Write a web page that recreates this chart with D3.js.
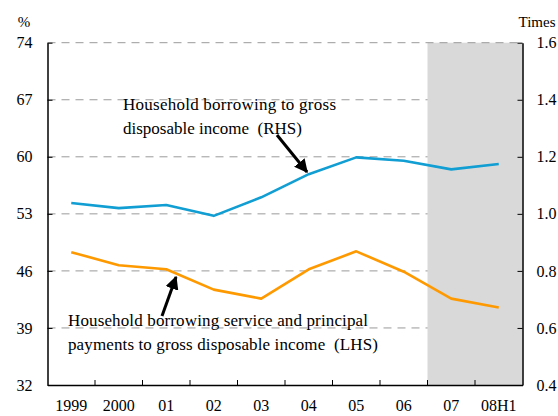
<!DOCTYPE html>
<html>
<head>
<meta charset="utf-8">
<script src="https://cdn.jsdelivr.net/npm/d3@7"></script>
<style>
  html, body { margin: 0; padding: 0; background: #fff; }
  svg { display: block; }
  text { font-family: "Liberation Serif", "Times New Roman", serif; fill: #000; }
</style>
</head>
<body>
<svg id="chart" width="558" height="416"></svg>
<script>
const categories = ["1999", "2000", "01", "02", "03", "04", "05", "06", "07", "08H1"];
const borrowingToIncomeRHS = [1.038, 1.020, 1.031, 0.993, 1.058, 1.139, 1.198, 1.186, 1.156, 1.175];
const servicePaymentsLHS = [48.3, 46.7, 46.2, 43.7, 42.6, 46.2, 48.4, 45.9, 42.6, 41.5];
const leftTicks = [32, 39, 46, 53, 60, 67, 74];
const rightTicks = [0.4, 0.6, 0.8, 1.0, 1.2, 1.4, 1.6];
const shadedFrom = "07";

const svg = d3.select("#chart");
const L = 47.5, R = 522.5, T = 42.7, B = 385;

const x = d3.scaleBand().domain(categories).range([L, R]).padding(0);
const cx = c => x(c) + x.bandwidth() / 2;
const yL = d3.scaleLinear().domain([32, 74]).range([B, T]);
const yR = d3.scaleLinear().domain([0.4, 1.6]).range([B, T]);

// gridlines
svg.append("g").selectAll("line")
  .data(leftTicks.filter(v => v > 32 && v < 74))
  .join("line")
  .attr("x1", L).attr("x2", R)
  .attr("y1", d => yL(d)).attr("y2", d => yL(d))
  .attr("stroke", "#9a9a9a").attr("stroke-width", 1)
  .attr("stroke-dasharray", "8,6");

// shaded forecast region
svg.append("rect")
  .attr("x", x(shadedFrom)).attr("y", T)
  .attr("width", R - x(shadedFrom)).attr("height", B - T)
  .attr("fill", "#d9d9d9");

// top line
svg.append("line")
  .attr("x1", L).attr("x2", R).attr("y1", yL(74)).attr("y2", yL(74))
  .attr("stroke", "#9a9a9a").attr("stroke-width", 1).attr("stroke-dasharray", "8,6");

// lines
const lineR = d3.line().x((d, i) => cx(categories[i])).y(d => yR(d));
const lineL = d3.line().x((d, i) => cx(categories[i])).y(d => yL(d));
svg.append("path").datum(borrowingToIncomeRHS)
  .attr("d", lineR).attr("fill", "none").attr("stroke", "#109ed3").attr("stroke-width", 2.6)
  .attr("stroke-linejoin", "round");
svg.append("path").datum(servicePaymentsLHS)
  .attr("d", lineL).attr("fill", "none").attr("stroke", "#ff9900").attr("stroke-width", 2.6)
  .attr("stroke-linejoin", "round");

// axes
const axL = d3.axisLeft(yL).tickValues(leftTicks).tickFormat(d3.format("d"))
  .tickSizeInner(-5).tickSizeOuter(0).tickPadding(15);
const gL = svg.append("g").attr("transform", `translate(${L},0)`).call(axL);
const axR = d3.axisRight(yR).tickValues(rightTicks).tickFormat(d3.format(".1f"))
  .tickSizeInner(-5).tickSizeOuter(0).tickPadding(14);
const gR = svg.append("g").attr("transform", `translate(${R},0)`).call(axR);
const axB = d3.axisBottom(x).tickSize(0).tickPadding(15);
const gB = svg.append("g").attr("transform", `translate(0,${B})`).call(axB);
[gL, gR, gB].forEach(g => {
  g.selectAll(".domain").attr("stroke", "#000").attr("stroke-width", 1.5);
  g.selectAll(".tick line").attr("stroke", "#000").attr("stroke-width", 1);
  g.selectAll("text").attr("font-family", "Liberation Serif").attr("font-size", 16).attr("fill", "#000");
});
gB.selectAll("text").attr("dy", "0.71em");
// category boundary ticks
svg.append("g").selectAll("line")
  .data(categories.slice(1))
  .join("line")
  .attr("x1", d => x(d)).attr("x2", d => x(d))
  .attr("y1", B).attr("y2", B - 5)
  .attr("stroke", "#000").attr("stroke-width", 1);

// unit labels
svg.append("text").attr("x", 24).attr("y", 27).attr("text-anchor", "middle")
  .attr("font-size", 15).text("%");
svg.append("text").attr("x", 537).attr("y", 27).attr("text-anchor", "middle")
  .attr("font-size", 15).text("Times");

// annotations
const ann = svg.append("g").attr("font-size", 17);
ann.append("text").attr("x", 123).attr("y", 110)
  .attr("textLength", 213).attr("lengthAdjust", "spacing").text("Household borrowing to gross");
ann.append("text").attr("x", 123).attr("y", 134).attr("xml:space", "preserve")
  .attr("textLength", 179).attr("lengthAdjust", "spacing").text("disposable income  (RHS)");
ann.append("text").attr("x", 68).attr("y", 326)
  .attr("textLength", 300).attr("lengthAdjust", "spacing").text("Household borrowing service and principal");
ann.append("text").attr("x", 68).attr("y", 350).attr("xml:space", "preserve")
  .attr("textLength", 310).attr("lengthAdjust", "spacing").text("payments to gross disposable income  (LHS)");

// arrows
svg.append("defs").append("marker")
  .attr("id", "ah").attr("viewBox", "0 0 10 10").attr("refX", 9).attr("refY", 5)
  .attr("markerWidth", 4.5).attr("markerHeight", 4.5).attr("orient", "auto")
  .append("path").attr("d", "M0,0 L10,5 L0,10 Z").attr("fill", "#000");
svg.append("line").attr("x1", 277).attr("y1", 135).attr("x2", 307).attr("y2", 172)
  .attr("stroke", "#000").attr("stroke-width", 3).attr("marker-end", "url(#ah)");
svg.append("line").attr("x1", 162).attr("y1", 316).attr("x2", 176).attr("y2", 277)
  .attr("stroke", "#000").attr("stroke-width", 3).attr("marker-end", "url(#ah)");
</script>
</body>
</html>
